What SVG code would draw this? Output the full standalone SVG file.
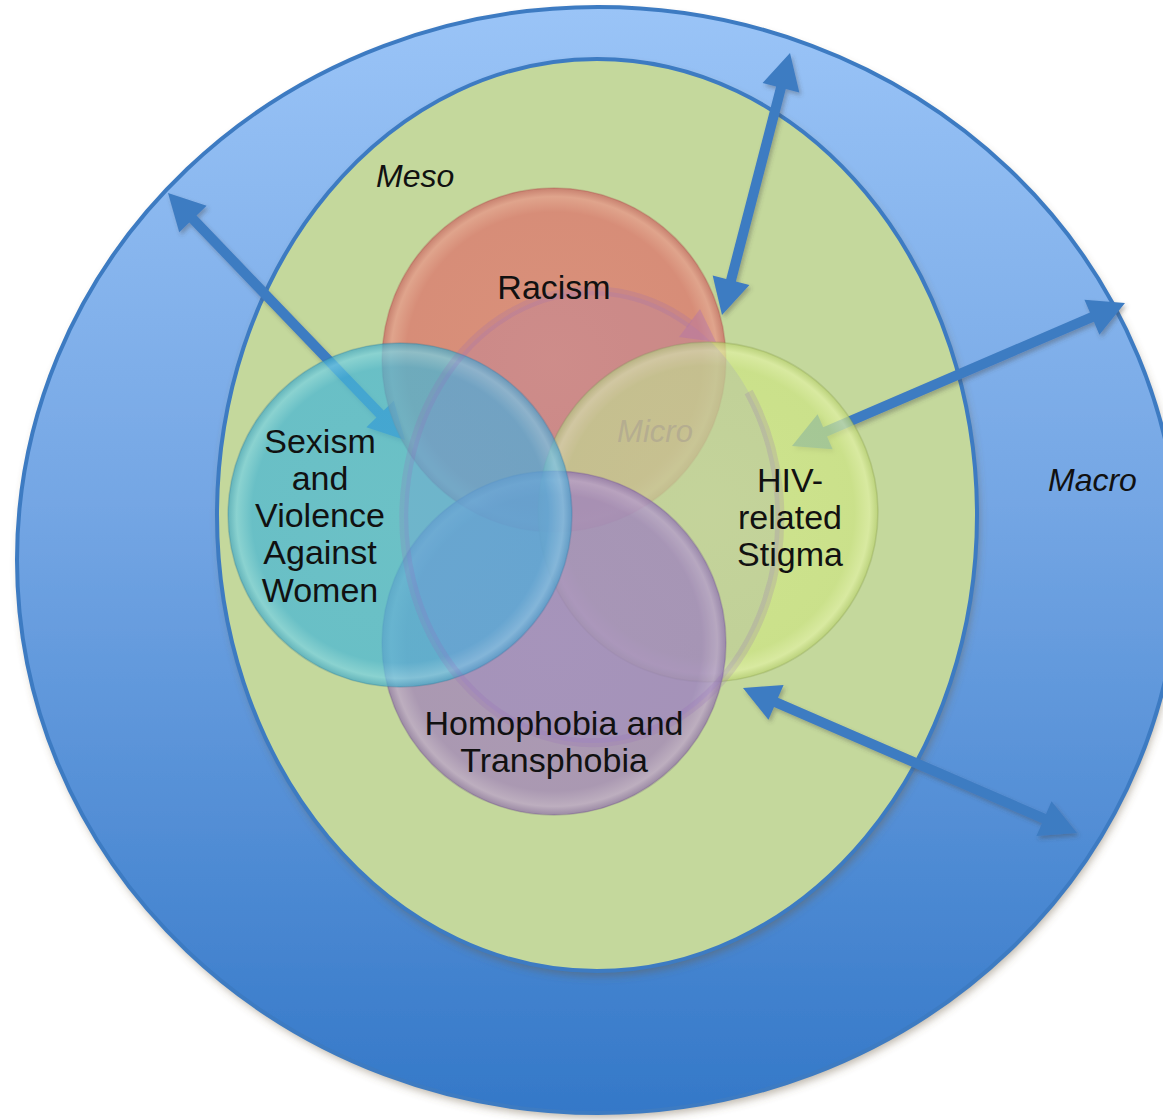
<svg xmlns="http://www.w3.org/2000/svg" width="1163" height="1120" viewBox="0 0 1163 1120">
  <defs>
    <linearGradient id="macroGrad" x1="0" y1="7" x2="0" y2="1113" gradientUnits="userSpaceOnUse">
      <stop offset="0" stop-color="#9ac4f7"/>
      <stop offset="0.45" stop-color="#74a6e4"/>
      <stop offset="1" stop-color="#3478c8"/>
    </linearGradient>
    <filter id="shadow" x="-10%" y="-10%" width="120%" height="120%">
      <feDropShadow dx="2" dy="5" stdDeviation="4" flood-color="#6b5a40" flood-opacity="0.45"/>
    </filter>
    <filter id="ashadow" x="-20%" y="-20%" width="140%" height="140%">
      <feDropShadow dx="2" dy="3" stdDeviation="2" flood-color="#444" flood-opacity="0.35"/>
    </filter>
    <radialGradient id="gRed" cx="0.5" cy="0.5" r="0.5">
      <stop offset="0" stop-color="#e2766e"/>
      <stop offset="0.86" stop-color="#de706a"/>
      <stop offset="0.95" stop-color="#ea9086"/>
      <stop offset="1" stop-color="#c9605e"/>
    </radialGradient>
    <radialGradient id="gCyan" cx="0.5" cy="0.5" r="0.5">
      <stop offset="0" stop-color="#4ab8d6"/>
      <stop offset="0.86" stop-color="#46b6d6"/>
      <stop offset="0.95" stop-color="#74d0e4"/>
      <stop offset="1" stop-color="#3ea6c6"/>
    </radialGradient>
    <radialGradient id="gGreen" cx="0.5" cy="0.5" r="0.5">
      <stop offset="0" stop-color="#d2e888"/>
      <stop offset="0.86" stop-color="#cde484"/>
      <stop offset="0.95" stop-color="#e0f0a2"/>
      <stop offset="1" stop-color="#b8d070"/>
    </radialGradient>
    <radialGradient id="gPurple" cx="0.5" cy="0.5" r="0.5">
      <stop offset="0" stop-color="#a382bd"/>
      <stop offset="0.86" stop-color="#a080ba"/>
      <stop offset="0.95" stop-color="#ba9ecc"/>
      <stop offset="1" stop-color="#8c6ca8"/>
    </radialGradient>
  </defs>
  <style>
    .lbl { font-family: "Liberation Sans", Arial, sans-serif; font-size: 34px; fill: #111; text-anchor: middle; }
    .lvl { font-family: "Liberation Sans", Arial, sans-serif; font-size: 32px; font-style: italic; fill: #111; }
    .micro { font-family: "Liberation Sans", Arial, sans-serif; font-size: 31px; font-style: italic; fill: #b3ab90; fill-opacity: 0.9; text-anchor: middle; }
    .ring { fill: none; stroke: #3d7bc2; stroke-width: 4; }
    .arrow { fill: #3e7cc2; }
    .venn { fill-opacity: 0.72; stroke-opacity: 0.25; stroke-width: 1.5; }
  </style>

  <g id="macro">
    <ellipse cx="598" cy="560" rx="581" ry="553" fill="url(#macroGrad)" filter="url(#shadow)"/>
    <ellipse class="ring" cx="598" cy="560" rx="581" ry="553"/>
    <text class="lvl" x="1048" y="491">Macro</text>
  </g>

  <g id="meso">
    <ellipse cx="597" cy="515" rx="380" ry="456" fill="#c4d89c" filter="url(#shadow)"/>
    <ellipse class="ring" cx="597" cy="515" rx="380" ry="456"/>
    <text class="lvl" x="376" y="187">Meso</text>
  </g>

  <g id="connectors" filter="url(#ashadow)">
    <polygon class="arrow" points="168,193 179.22,232.14 189.32,222.44 376.46,417.48 366.36,427.18 405,440 393.78,400.86 383.68,410.56 196.54,215.52 206.64,205.82"/>
    <polygon class="arrow" points="790,53 762.57,83.07 776.12,86.58 726.20,278.90 712.65,275.39 722,315 749.43,284.93 735.88,281.42 785.80,89.10 799.35,92.61"/>
    <polygon class="arrow" points="1125,303 1084.42,299.75 1089.95,312.62 823.11,427.20 817.58,414.33 792,446 832.58,449.25 827.05,436.38 1093.89,321.80 1099.42,334.67"/>
    <polygon class="arrow" points="743,688 768.45,719.77 774.03,706.93 1041.99,823.25 1036.41,836.09 1077,833 1051.55,801.23 1045.97,814.07 778.01,697.75 783.59,684.91"/>
  </g>

  <g id="racism">
    <circle class="venn" cx="554" cy="360" r="172" fill="url(#gRed)" stroke="#a04040"/>
  </g>
  <g id="hiv">
    <circle class="venn" cx="708" cy="512" r="170" fill="url(#gGreen)" stroke="#7a9040"/>
  </g>
  <g id="homophobia">
    <circle class="venn" cx="554" cy="643" r="172" fill="url(#gPurple)" stroke="#604080"/>
  </g>
  <g id="sexism">
    <circle class="venn" cx="400" cy="515" r="172" fill="url(#gCyan)" stroke="#2a7090"/>
  </g>

  <g id="cycle">
    <ellipse cx="592" cy="517" rx="188" ry="226" fill="#8571eb" fill-opacity="0.14"/>
    <path d="M748.6,392 A188,226 0 1 1 690,324" fill="none" stroke="#9468b8" stroke-opacity="0.2" stroke-width="9"/>
    <polygon points="716,342 679,337 700,309" fill="#b070b0" fill-opacity="0.4"/>
  </g>

  <g id="micro">
    <text class="micro" x="655" y="442">Micro</text>
  </g>

  <g id="labels">
    <text class="lbl" x="554" y="299">Racism</text>
    <text class="lbl" x="320" y="453">Sexism</text>
    <text class="lbl" x="320" y="490">and</text>
    <text class="lbl" x="320" y="527">Violence</text>
    <text class="lbl" x="320" y="564">Against</text>
    <text class="lbl" x="320" y="602">Women</text>
    <text class="lbl" x="790" y="492">HIV-</text>
    <text class="lbl" x="790" y="529">related</text>
    <text class="lbl" x="790" y="566">Stigma</text>
    <text class="lbl" x="554" y="735">Homophobia and</text>
    <text class="lbl" x="554" y="772">Transphobia</text>
  </g>
</svg>
